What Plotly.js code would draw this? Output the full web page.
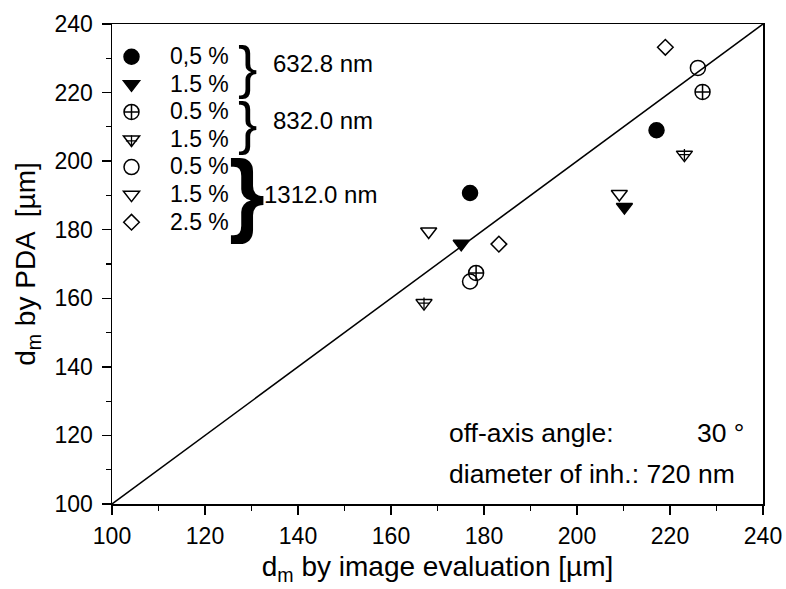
<!DOCTYPE html>
<html>
<head>
<meta charset="utf-8">
<script src="https://cdn.plot.ly/plotly-3.0.1.min.js"></script>
<style>html,body{margin:0;padding:0;background:#fff;}</style>
</head>
<body>
<div id="chart" style="width:786px;height:589px;"></div>
<script>
// ---- data ----
var diagX = [100, 240];
var diagY = [100, 240];

var filledCircleX = [177.0, 217.1];
var filledCircleY = [190.7, 209.0];
var filledTriX = [175.1, 210.2];
var filledTriY = [175.9, 186.6];
var crossCircleX = [178.3, 227.0];
var crossCircleY = [167.4, 220.2];
var crossTriX = [167.1, 223.1];
var crossTriY = [158.6, 201.9];
var openCircleX = [177.0, 226.0];
var openCircleY = [164.9, 227.2];
var openTriX = [168.1, 209.1];
var openTriY = [179.5, 190.4];
var openDiamondX = [183.2, 219.0];
var openDiamondY = [175.8, 233.2];

var seriesNames = ['0,5 %', '1.5 %', '0.5 %', '1.5 %', '0.5 %', '1.5 %', '2.5 %'];
var groupLabels = ['632.8 nm', '832.0 nm', '1312.0 nm'];
var tickVals = [100, 120, 140, 160, 180, 200, 220, 240];

// ---- layout helpers ----
var W = 786, H = 589;
var M = {l: 112, r: 23, t: 24, b: 85};
var PW = W - M.l - M.r, PH = H - M.t - M.b;
function px(x) { return (x - M.l) / PW; }
function py(y) { return (H - M.b - y) / PH; }

var FONT = 'Liberation Sans, Arial, sans-serif';
function legName(s) { return '<span style="font-size:23px">' + s + '</span>'; }

function pts(x, y, name, symbol, size, color, extra) {
  var t = {
    type: 'scatter', mode: 'markers', x: x, y: y, name: legName(name),
    marker: {symbol: symbol, size: size, color: color,
             line: {color: '#000', width: 1.5}},
    cliponaxis: false
  };
  if (extra) for (var k in extra) t[k] = extra[k];
  return t;
}

var traces = [
  {type: 'scatter', mode: 'lines', x: diagX, y: diagY, showlegend: false,
   line: {color: '#000', width: 1.5}, hoverinfo: 'skip'},
  pts(filledCircleX, filledCircleY, seriesNames[0], 'circle', 15, '#000'),
  pts(filledTriX, filledTriY, seriesNames[1], 'triangle-down', 14, '#000'),
  pts(crossCircleX, crossCircleY, seriesNames[2], 'circle-cross-open', 15, '#000'),
  pts(crossTriX, crossTriY, seriesNames[3], 'triangle-down-open', 14, '#000'),
  pts(openCircleX, openCircleY, seriesNames[4], 'circle-open', 15, '#000'),
  pts(openTriX, openTriY, seriesNames[5], 'triangle-down-open', 14, '#000'),
  pts(openDiamondX, openDiamondY, seriesNames[6], 'diamond-open', 12, '#000'),
  // inner cross of the crossed triangle
  pts(crossTriX, crossTriY, ' ', 'cross-thin-open', 8, '#000',
      {legend: 'legend2', marker: {symbol: 'cross-thin-open', size: 8, color: '#000',
       line: {color: '#000', width: 1.3}}})
];

var axisCommon = {
  range: [100, 240], tickvals: tickVals, ticks: 'outside', ticklen: 9, tickwidth: 1.3,
  tickcolor: '#000', showline: true, linecolor: '#000', linewidth: 1.5, mirror: true,
  showgrid: false, zeroline: false, tickfont: {family: FONT, size: 23, color: '#000'},
  minor: {dtick: 10, ticks: 'outside', ticklen: 5, tickwidth: 1.2, tickcolor: '#000', showgrid: false}
};

var xaxis = Object.assign({}, axisCommon, {
  title: {text: 'd<sub>m</sub> by image evaluation [µm]', font: {family: FONT, size: 28, color: '#000'}, standoff: 8},
  ticklabelstandoff: 2
});
var yaxis = Object.assign({}, axisCommon, {
  title: {text: 'd<sub>m</sub> by PDA  [µm]', font: {family: FONT, size: 28, color: '#000'}, standoff: 10},
  ticklabelstandoff: 4
});

var rowH = 28.0;
var legTop = 38;
var legLeft = 93;

var annotations = [];
// braces
annotations.push({xref: 'paper', yref: 'paper', x: px(247), y: py(66), text: '}', showarrow: false,
  xanchor: 'center', yanchor: 'middle', font: {family: FONT, size: 58, color: '#000'}});
annotations.push({xref: 'paper', yref: 'paper', x: px(247), y: py(122), text: '}', showarrow: false,
  xanchor: 'center', yanchor: 'middle', font: {family: FONT, size: 58, color: '#000'}});
annotations.push({xref: 'paper', yref: 'paper', x: px(247), y: py(193), text: '<b>}</b>', showarrow: false,
  xanchor: 'center', yanchor: 'middle', font: {family: FONT, size: 92, color: '#000'}});
// wavelength labels
annotations.push({xref: 'paper', yref: 'paper', x: px(323), y: py(63), text: groupLabels[0], showarrow: false,
  xanchor: 'center', yanchor: 'middle', font: {family: FONT, size: 24, color: '#000'}});
annotations.push({xref: 'paper', yref: 'paper', x: px(323), y: py(121), text: groupLabels[1], showarrow: false,
  xanchor: 'center', yanchor: 'middle', font: {family: FONT, size: 24, color: '#000'}});
annotations.push({xref: 'paper', yref: 'paper', x: px(320), y: py(195), text: groupLabels[2], showarrow: false,
  xanchor: 'center', yanchor: 'middle', font: {family: FONT, size: 24, color: '#000'}});
// info text
annotations.push({xref: 'paper', yref: 'paper', x: px(447), y: py(433), text: 'off-axis angle:', showarrow: false,
  xanchor: 'left', yanchor: 'middle', font: {family: FONT, size: 26.5, color: '#000'}});
annotations.push({xref: 'paper', yref: 'paper', x: px(746), y: py(433), text: '30 °', showarrow: false,
  xanchor: 'right', yanchor: 'middle', font: {family: FONT, size: 26.5, color: '#000'}});
annotations.push({xref: 'paper', yref: 'paper', x: px(447), y: py(474), text: 'diameter of inh.: 720 nm', showarrow: false,
  xanchor: 'left', yanchor: 'middle', font: {family: FONT, size: 26.5, color: '#000'}});

var legCommon = {xanchor: 'left', yanchor: 'top', bgcolor: 'rgba(0,0,0,0)', borderwidth: 0,
  font: {family: FONT, size: 18.9, color: '#000'}, itemwidth: 67, tracegroupgap: 0};

var layout = {
  width: W, height: H,
  margin: M,
  paper_bgcolor: '#fff', plot_bgcolor: '#fff',
  font: {family: FONT, color: '#000'},
  xaxis: xaxis, yaxis: yaxis,
  showlegend: true,
  legend: Object.assign({x: px(legLeft), y: py(legTop)}, legCommon),
  legend2: Object.assign({x: px(legLeft), y: py(legTop + 3 * rowH)}, legCommon),
  annotations: annotations
};

Plotly.newPlot('chart', traces, layout, {displayModeBar: false, staticPlot: true});
</script>
</body>
</html>
